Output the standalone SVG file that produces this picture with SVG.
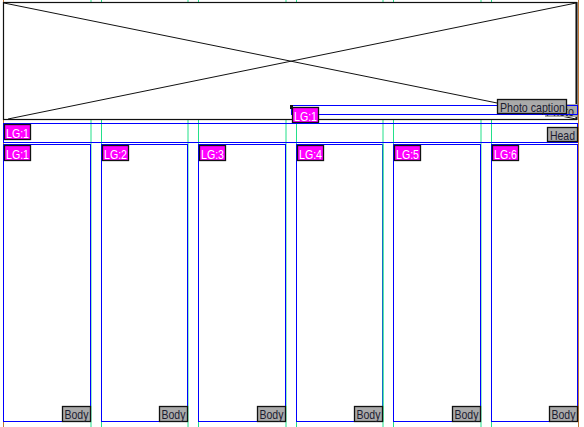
<svg xmlns="http://www.w3.org/2000/svg" width="584" height="427" viewBox="0 0 584 427">
<style>
.guide{stroke:#22e08a;stroke-width:1}
.margin{stroke:#c07838;stroke-width:1}
.frame{fill:none;stroke:#0000ff;stroke-width:1}
.cframe{fill:#fff;stroke:#0000ff;stroke-width:1}
.lg{fill:#ff00ff;stroke:#111;stroke-width:1.3}
.gl{fill:#aaaaaa;stroke:#111;stroke-width:1.3}
.lgt{font-family:"Liberation Sans",Arial,sans-serif;font-size:13px;fill:#fff}
.gt{font-family:"Liberation Sans",Arial,sans-serif;font-size:13px;fill:#1c1c30}
</style>
<rect width="584" height="427" fill="#fff"/>
<g id="guides">
<line class="margin" x1="3.5" y1="0" x2="3.5" y2="427"/>
<line class="margin" x1="578.5" y1="0" x2="578.5" y2="427"/>
<line class="guide" x1="91" y1="0" x2="91" y2="427"/>
<line class="guide" x1="101.5" y1="0" x2="101.5" y2="427"/>
<line class="guide" x1="188" y1="0" x2="188" y2="427"/>
<line class="guide" x1="198.5" y1="0" x2="198.5" y2="427"/>
<line class="guide" x1="286" y1="0" x2="286" y2="427"/>
<line class="guide" x1="296.5" y1="0" x2="296.5" y2="427"/>
<line class="guide" x1="383" y1="0" x2="383" y2="427"/>
<line class="guide" x1="393.5" y1="0" x2="393.5" y2="427"/>
<line class="guide" x1="481" y1="0" x2="481" y2="427"/>
<line class="guide" x1="491.5" y1="0" x2="491.5" y2="427"/>
</g>
<g id="photo">
<rect x="3.5" y="2.5" width="573" height="117" fill="#fff" stroke="#111" stroke-width="1.2"/>
<line x1="576.5" y1="2" x2="576.5" y2="120" stroke="#111" stroke-width="2"/>
<line x1="4" y1="3" x2="576" y2="119" stroke="#111" stroke-width="1"/>
<line x1="8" y1="119" x2="576" y2="3" stroke="#111" stroke-width="1"/>
<rect x="545" y="104" width="32" height="13" fill="#aaaaaa"/>
<text class="gt" x="546" y="116" textLength="28" lengthAdjust="spacingAndGlyphs">Photo</text>
</g>
<g id="caption">
<rect class="frame" x="291.5" y="105.5" width="286" height="9"/>
<rect x="290" y="105" width="3" height="4" fill="#111"/>
<rect class="gl" x="497.5" y="99.5" width="69" height="14"/>
<text class="gt" x="500" y="111.5" textLength="65" lengthAdjust="spacingAndGlyphs">Photo caption</text>
<rect class="lg" x="292.5" y="107.5" width="26" height="15"/>
<text class="lgt" x="294" y="120.5" textLength="23" lengthAdjust="spacingAndGlyphs">LG:1</text>
</g>
<g id="head">
<rect class="frame" x="3.5" y="123.5" width="574" height="19"/>
<rect class="lg" x="4.5" y="124.5" width="26" height="15"/>
<text class="lgt" x="6" y="137.5" textLength="23" lengthAdjust="spacingAndGlyphs">LG:1</text>
<rect class="gl" x="547.5" y="127.5" width="30" height="14"/>
<text class="gt" x="550" y="139.5" textLength="25" lengthAdjust="spacingAndGlyphs">Head</text>
</g>
<g id="col1">
<rect class="cframe" x="3.5" y="144.5" width="87" height="277"/>
<rect class="lg" x="4.5" y="145.5" width="26" height="15"/>
<text class="lgt" x="6" y="158.5" textLength="23" lengthAdjust="spacingAndGlyphs">LG:1</text>
<rect class="gl" x="62.5" y="406.5" width="28" height="15"/>
<text class="gt" x="64.5" y="418.5" textLength="24" lengthAdjust="spacingAndGlyphs">Body</text>
</g>
<g id="col2">
<rect class="cframe" x="101.5" y="144.5" width="86" height="277"/>
<rect class="lg" x="102.5" y="145.5" width="26" height="15"/>
<text class="lgt" x="104" y="158.5" textLength="23" lengthAdjust="spacingAndGlyphs">LG:2</text>
<rect class="gl" x="159.5" y="406.5" width="28" height="15"/>
<text class="gt" x="161.5" y="418.5" textLength="24" lengthAdjust="spacingAndGlyphs">Body</text>
</g>
<g id="col3">
<rect class="cframe" x="198.5" y="144.5" width="87" height="277"/>
<rect class="lg" x="199.5" y="145.5" width="26" height="15"/>
<text class="lgt" x="201" y="158.5" textLength="23" lengthAdjust="spacingAndGlyphs">LG:3</text>
<rect class="gl" x="257.5" y="406.5" width="28" height="15"/>
<text class="gt" x="259.5" y="418.5" textLength="24" lengthAdjust="spacingAndGlyphs">Body</text>
</g>
<g id="col4">
<rect class="cframe" x="296.5" y="144.5" width="86" height="277"/>
<line class="guide" x1="383" y1="144" x2="383" y2="422"/>
<rect class="lg" x="297.5" y="145.5" width="26" height="15"/>
<text class="lgt" x="299" y="158.5" textLength="23" lengthAdjust="spacingAndGlyphs">LG:4</text>
<rect class="gl" x="354.5" y="406.5" width="28" height="15"/>
<text class="gt" x="356.5" y="418.5" textLength="24" lengthAdjust="spacingAndGlyphs">Body</text>
</g>
<g id="col5">
<rect class="cframe" x="393.5" y="144.5" width="87" height="277"/>
<rect class="lg" x="394.5" y="145.5" width="26" height="15"/>
<text class="lgt" x="396" y="158.5" textLength="23" lengthAdjust="spacingAndGlyphs">LG:5</text>
<rect class="gl" x="452.5" y="406.5" width="28" height="15"/>
<text class="gt" x="454.5" y="418.5" textLength="24" lengthAdjust="spacingAndGlyphs">Body</text>
</g>
<g id="col6">
<rect class="cframe" x="491.5" y="144.5" width="86" height="277"/>
<rect class="lg" x="492.5" y="145.5" width="26" height="15"/>
<text class="lgt" x="494" y="158.5" textLength="23" lengthAdjust="spacingAndGlyphs">LG:6</text>
<rect class="gl" x="549.5" y="406.5" width="28" height="15"/>
<text class="gt" x="551.5" y="418.5" textLength="24" lengthAdjust="spacingAndGlyphs">Body</text>
</g>
</svg>
